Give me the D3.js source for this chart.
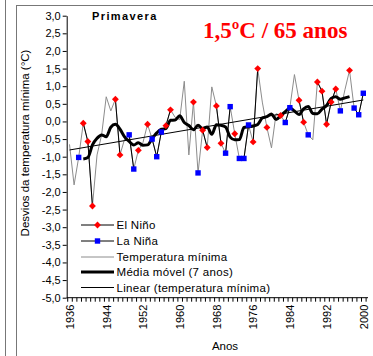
<!DOCTYPE html>
<html>
<head>
<meta charset="utf-8">
<script src="https://cdn.jsdelivr.net/npm/d3@7"></script>
<style>
  body { margin: 0; background: #fff; }
  svg { display: block; font-family: "Liberation Sans", Arial, sans-serif; }
</style>
</head>
<body>
<script>
// anos e desvios da temperatura minima (primavera)
var firstYear = 1936, lastYear = 2000;
var years = d3.range(firstYear, lastYear + 1);
var tempMin = [
  -0.65, -1.80, -1.02, -0.05, -0.57, -2.40, -0.95, -0.38, 0.70, 0.30,
   0.63, -0.95, -0.50, -0.38, -1.35, -0.82, -0.60, -0.08, -0.50, -1.00,
  -0.30, -0.12, 0.33, 0.12, 0.05, 1.14, -0.95, 0.55, -1.46, -0.25,
  -0.74, 0.98, 0.44, -0.62, -0.90, 0.42, -0.35, -1.05, -1.05, -0.10,
  -0.58, 1.50, 0.55, -0.17, -0.75, 0.22, 0.17, -0.03, 0.39, 1.33,
   0.60, -0.02, -0.38, -0.52, 1.12, 0.86, -0.08, 0.55, 0.92, 0.30,
   0.90, 1.45, 0.38, 0.19, 0.80
];
var elNinoYears = [1939, 1940, 1941, 1946, 1947, 1951, 1953, 1957, 1958, 1963, 1965, 1966,
  1968, 1969, 1972, 1976, 1977, 1979, 1982, 1986, 1987, 1990, 1991, 1992, 1993, 1994, 1997];
var laNinaYears = [1938, 1949, 1950, 1954, 1955, 1956, 1964, 1970, 1971, 1973, 1974, 1975,
  1983, 1984, 1988, 1995, 1998, 1999, 2000];
var yTicks = [-5, -4.5, -4, -3.5, -3, -2.5, -2, -1.5, -1, -0.5, 0, 0.5, 1, 1.5, 2, 2.5, 3];
var xLabels = [1936, 1944, 1952, 1960, 1968, 1976, 1984, 1992, 2000];
var legendLabels = ["El Niño", "La Niña", "Temperatura mínima", "Média móvel (7 anos)", "Linear (temperatura mínima)"];
var maPeriod = 7;

var width = 373, height = 356;

var ptLocale = d3.formatLocale({decimal: ",", thousands: ".", grouping: [3], currency: ["", ""], minus: "-"});
var fmt = ptLocale.format(".1f");

var svg = d3.select("body").append("svg")
  .attr("width", width).attr("height", height);

// moldura
svg.append("line").attr("x1", 5.5).attr("x2", 5.5).attr("y1", 0).attr("y2", height)
  .attr("stroke", "#777");
svg.append("rect").attr("x", 16.5).attr("y", 5.5).attr("width", 400).attr("height", 400)
  .attr("fill", "none").attr("stroke", "#777");

// escalas
var x = d3.scaleLinear().domain([firstYear, lastYear]).range([69.5, 363.3]);
var y = d3.scaleLinear().domain([-5, 3]).range([297.7, 15.7]);

var data = years.map(function(yr, i){ return {year: yr, v: tempMin[i]}; });

// media movel centrada e tendencia linear calculadas a partir da serie
var half = (maPeriod - 1) / 2;
var movAvg = [];
for (var i = half; i < data.length - half; i++) {
  movAvg.push({year: data[i].year, v: d3.mean(data.slice(i - half, i + half + 1), function(d){ return d.v; })});
}
var mx = d3.mean(data, function(d){ return d.year; });
var my = d3.mean(data, function(d){ return d.v; });
var slope = d3.sum(data, function(d){ return (d.year - mx) * (d.v - my); }) /
            d3.sum(data, function(d){ return (d.year - mx) * (d.year - mx); });
var trend = [firstYear, lastYear].map(function(yr){ return {year: yr, v: my + slope * (yr - mx)}; });

// eixo y
var yAxis = d3.axisLeft(y).tickValues(yTicks).tickSize(4).tickSizeOuter(0).tickFormat(fmt);
var gy = svg.append("g").attr("transform", "translate(66.7,0)").call(yAxis);
gy.selectAll("text").attr("font-size", 11).attr("fill", "#000").attr("x", -6)
  .attr("font-family", "Liberation Sans, Arial, sans-serif");
gy.select(".domain").attr("stroke", "#000");
gy.selectAll(".tick line").attr("stroke", "#000");

// eixo x: tracos por ano e rotulos a cada 8 anos
var xMinor = d3.axisBottom(x).tickValues(d3.range(firstYear - 0.5, lastYear + 0.6, 1))
  .tickSize(4).tickSizeOuter(0).tickFormat("");
var gx = svg.append("g").attr("transform", "translate(0,297.7)").call(xMinor);
gx.select(".domain").attr("stroke", "#000").attr("d", "M66.7,0H368");
gx.selectAll(".tick line").attr("stroke", "#000");

var xAxis = d3.axisBottom(x).tickValues(xLabels).tickSize(0).tickFormat(d3.format("d"));
var gxl = svg.append("g").attr("transform", "translate(0,297.7)").call(xAxis);
gxl.select(".domain").remove();
gxl.selectAll("text")
  .attr("font-size", 11).attr("fill", "#000")
  .attr("font-family", "Liberation Sans, Arial, sans-serif")
  .attr("text-anchor", "end")
  .attr("transform", "rotate(-90)")
  .attr("x", -7).attr("y", 0).attr("dy", "0.35em");

// titulos
svg.append("text").attr("x", 225).attr("y", 350).attr("text-anchor", "middle")
  .attr("font-size", 11.5).text("Anos");
svg.append("text").attr("transform", "translate(29,143) rotate(-90)").attr("text-anchor", "middle")
  .attr("font-size", 11.5).text("Desvios da temperatura mínima (°C)");
svg.append("text").attr("x", 92).attr("y", 20).attr("font-size", 11).attr("font-weight", "bold")
  .attr("letter-spacing", 1.4).text("Primavera");
svg.append("text").attr("x", 203).attr("y", 37.5).attr("font-size", 23).attr("font-weight", "bold")
  .attr("font-family", "Liberation Serif, Times New Roman, serif").attr("fill", "#ff0000")
  .text("1,5ºC / 65 anos");

// linhas
var line = d3.line().x(function(d){ return x(d.year); }).y(function(d){ return y(d.v); });

svg.append("path").datum(data).attr("d", line)
  .attr("fill", "none").attr("stroke", "#8c8c8c").attr("stroke-width", 1);

svg.append("path").datum(trend).attr("d", line)
  .attr("fill", "none").attr("stroke", "#000").attr("stroke-width", 1);

svg.append("path").datum(movAvg).attr("d", line.curve(d3.curveMonotoneX))
  .attr("fill", "none").attr("stroke", "#000").attr("stroke-width", 3).attr("stroke-linejoin", "round");
line.curve(d3.curveLinear);

// series El Nino / La Nina (linhas so entre anos consecutivos)
function eventSeries(list){
  return data.map(function(d){ return list.indexOf(d.year) >= 0 ? d : null; });
}
var gapLine = d3.line().defined(function(d){ return d !== null; })
  .x(function(d){ return x(d.year); }).y(function(d){ return y(d.v); });

var elNino = eventSeries(elNinoYears), laNina = eventSeries(laNinaYears);
svg.append("path").datum(elNino).attr("d", gapLine).attr("fill", "none").attr("stroke", "#000");
svg.append("path").datum(laNina).attr("d", gapLine).attr("fill", "none").attr("stroke", "#000");

var diamond = d3.symbol().type(d3.symbolDiamond2).size(30);
svg.selectAll(".nino").data(elNino.filter(Boolean)).enter().append("path")
  .attr("class", "nino").attr("d", diamond)
  .attr("transform", function(d){ return "translate(" + x(d.year) + "," + y(d.v) + ")"; })
  .attr("fill", "#ff0000");
svg.selectAll(".nina").data(laNina.filter(Boolean)).enter().append("rect")
  .attr("class", "nina")
  .attr("x", function(d){ return x(d.year) - 2.7; })
  .attr("y", function(d){ return y(d.v) - 2.7; })
  .attr("width", 5.4).attr("height", 5.4)
  .attr("fill", "#0000ff");

// legenda
var leg = svg.append("g").attr("font-size", 11.5);
var legY = [225, 241, 257, 272, 287.5];
legendLabels.forEach(function(lbl, i){
  var g = leg.append("g").attr("transform", "translate(0," + legY[i] + ")");
  g.append("line").attr("x1", 81).attr("x2", 114).attr("y1", 0).attr("y2", 0)
    .attr("stroke", i === 2 ? "#8c8c8c" : "#000")
    .attr("stroke-width", i === 3 ? 3 : 1);
  if (i === 0) g.append("path").attr("d", diamond).attr("transform", "translate(97.5,0)").attr("fill", "#ff0000");
  if (i === 1) g.append("rect").attr("x", 94.8).attr("y", -2.7).attr("width", 5.4).attr("height", 5.4).attr("fill", "#0000ff");
  g.append("text").attr("x", 116.5).attr("y", 0).attr("dy", "0.35em").attr("letter-spacing", 0.3).text(lbl);
});
</script>
</body>
</html>
